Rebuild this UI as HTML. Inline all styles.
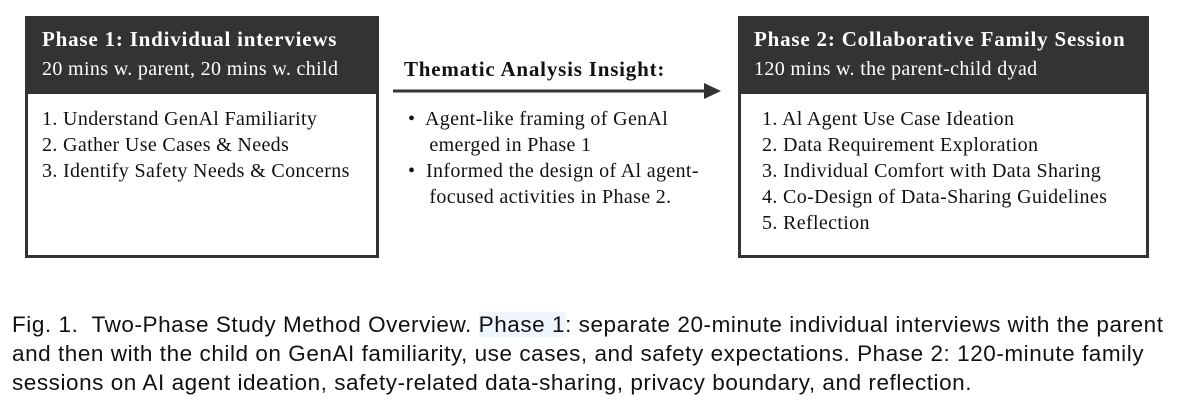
<!DOCTYPE html>
<html><head><style>
body{margin:0;width:1178px;height:414px;background:#fff;position:relative;overflow:hidden;font-family:"Liberation Serif",serif;color:#111}
.box{position:absolute;border:3px solid #333;box-sizing:border-box;background:#fff}
.hd{position:absolute;left:0;right:0;top:0;height:75px;background:#333;color:#fff}
.t{position:absolute;white-space:nowrap;font-size:20px;letter-spacing:0.35px;line-height:26px}
.b{font-weight:bold;font-size:21px;letter-spacing:0.8px}
.cap{position:absolute;left:12px;font-family:"Liberation Sans",sans-serif;font-size:22.5px;white-space:nowrap;letter-spacing:0.55px;color:#111}
</style></head><body>
<div class="box" style="left:25px;top:16px;width:354px;height:242px">
 <div class="hd"></div>
</div>
<div class="t b" style="left:42px;top:26px;color:#fff">Phase 1: Individual interviews</div>
<div class="t" style="left:42px;top:56px;color:#fff">20 mins w. parent, 20 mins w. child</div>
<div class="t" style="left:42px;top:106px">1. Understand GenAl Familiarity<br>2. Gather Use Cases &amp; Needs<br>3. Identify Safety Needs &amp; Concerns</div>

<div class="box" style="left:738px;top:16px;width:411px;height:242px">
 <div class="hd"></div>
</div>
<div class="t b" style="left:754px;top:26px;color:#fff">Phase 2: Collaborative Family Session</div>
<div class="t" style="left:754px;top:56px;color:#fff">120 mins w. the parent-child dyad</div>
<div class="t" style="left:762px;top:106px">1. Al Agent Use Case Ideation<br>2. Data Requirement Exploration<br>3. Individual Comfort with Data Sharing<br>4. Co-Design of Data-Sharing Guidelines<br>5. Reflection</div>

<div class="t b" style="left:404px;top:56px">Thematic Analysis Insight:</div>
<svg style="position:absolute;left:0;top:0" width="1178" height="414">
<line x1="393" y1="91" x2="706" y2="91" stroke="#333" stroke-width="3"/>
<polygon points="704,83 721,91 704,99" fill="#333"/>
</svg>
<div class="t" style="left:408px;top:106px">•&nbsp; Agent-like framing of GenAl<br>&nbsp;&nbsp;&nbsp; emerged in Phase 1<br>•&nbsp; Informed the design of Al agent-<br>&nbsp;&nbsp;&nbsp; focused activities in Phase 2.</div>

<div class="cap" style="top:312px">Fig. 1.&nbsp; Two-Phase Study Method Overview. <span style="background:#eef5fc">Phase 1</span>: separate 20-minute individual interviews with the parent</div>
<div class="cap" style="top:341px">and then with the child on GenAI familiarity, use cases, and safety expectations. Phase 2: 120-minute family</div>
<div class="cap" style="top:370px">sessions on AI agent ideation, safety-related data-sharing, privacy boundary, and reflection.</div>
</body></html>
